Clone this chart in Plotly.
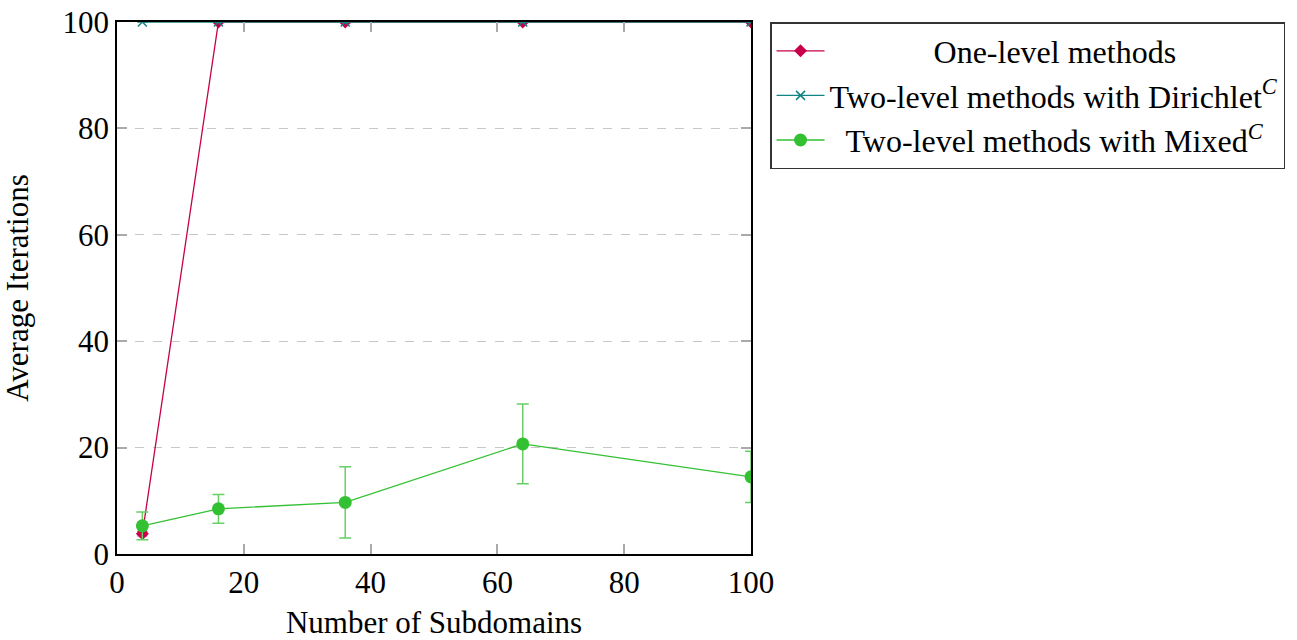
import plotly.graph_objects as go

subdomains = [4, 16, 36, 64, 100]
one_level = [3.8, 100, 100, 100, 100]
one_level_err = [0.4, 0, 0, 0, 0]
dirichlet = [100, 100, 100, 100, 100]
dirichlet_err = [0, 0, 0, 0, 0]
mixed = [5.3, 8.5, 9.7, 20.7, 14.5]
mixed_err = [2.6, 2.7, 6.7, 7.5, 4.8]

series_names = [
    "One-level methods",
    "Two-level methods with Dirichlet<sup><i>C</i></sup>",
    "Two-level methods with Mixed<sup><i>C</i></sup>",
]
# left padding (non-breaking spaces) used to centre legend labels like the original
legend_pad = [13, 0, 2]

x_ticks = [0, 20, 40, 60, 80, 100]
y_ticks = [0, 20, 40, 60, 80, 100]

font_family = "Liberation Serif, Times New Roman, serif"
FS = 31
LFS = 32


def label(i):
    return "&nbsp;" * legend_pad[i] + series_names[i]


fig = go.Figure()
fig.add_trace(go.Scatter(
    x=subdomains, y=one_level, mode="lines+markers",
    name=label(0),
    line=dict(color="#C8004B", width=1.3),
    marker=dict(symbol="diamond", size=10, color="#C8004B"),
    error_y=dict(type="data", array=one_level_err, visible=True, color="#C8004B", thickness=1, width=5),
))
fig.add_trace(go.Scatter(
    x=subdomains, y=dirichlet, mode="lines+markers",
    name=label(1),
    line=dict(color="#138484", width=1.3),
    marker=dict(symbol="x-thin", size=9, color="#138484", line=dict(color="#138484", width=1.5)),
    error_y=dict(type="data", array=dirichlet_err, visible=True, color="#138484", thickness=1, width=5),
))
fig.add_trace(go.Scatter(
    x=subdomains, y=mixed, mode="lines+markers",
    name=label(2),
    line=dict(color="#33C133", width=1.3),
    marker=dict(symbol="circle", size=13, color="#33C133"),
    error_y=dict(type="data", array=mixed_err, visible=True, color="#66D066", thickness=1.5, width=6),
))

fig.update_layout(
    width=1297, height=640,
    margin=dict(l=117, r=541, t=22, b=86),
    paper_bgcolor="white", plot_bgcolor="white",
    font=dict(family=font_family, size=FS, color="black"),
    showlegend=True,
    legend=dict(x=1.03, y=1.0, xanchor="left", yanchor="top",
                bordercolor="#333333", borderwidth=1.5,
                font=dict(family=font_family, size=LFS, color="black"),
                itemwidth=48, tracegroupgap=0),
    xaxis=dict(
        range=[0, 100], tickvals=x_ticks, ticktext=[str(v) for v in x_ticks],
        showgrid=False, zeroline=False, automargin=False,
        showline=True, linecolor="black", linewidth=1.5, mirror="allticks",
        ticks="inside", ticklen=10, tickcolor="#AAAAAA", tickwidth=1.5,
        ticklabeloverflow="allow",
        title=dict(text="Number of Subdomains", font=dict(size=FS), standoff=24),
        tickfont=dict(size=FS),
    ),
    yaxis=dict(
        range=[0, 100], tickvals=y_ticks, ticktext=[str(v) for v in y_ticks],
        showgrid=True, gridcolor="#C8C8C8", griddash="dash", gridwidth=1.2,
        zeroline=False, automargin=False,
        showline=True, linecolor="black", linewidth=1.5, mirror="allticks",
        ticks="inside", ticklen=10, tickcolor="#AAAAAA", tickwidth=1.5,
        ticklabeloverflow="allow",
        title=dict(text="Average Iterations", font=dict(size=FS), standoff=29),
        tickfont=dict(size=FS),
    ),
)

fig.write_html("out.html", config={"displayModeBar": False},
               post_script="document.body.style.margin='0';")
